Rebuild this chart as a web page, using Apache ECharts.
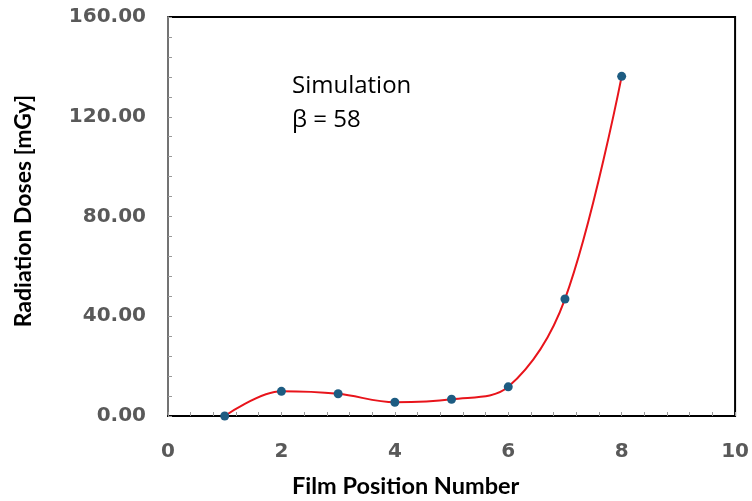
<!DOCTYPE html>
<html>
<head>
<meta charset="utf-8">
<script src="https://cdn.jsdelivr.net/npm/echarts@6/dist/echarts.min.js"></script>
<style>
  html, body { margin: 0; padding: 0; background: #fff; }
  #chart { width: 752px; height: 501px; }
</style>
</head>
<body>
<div id="chart"></div>
<script>
// Film positions and simulated radiation doses (mGy)
const filmPositions = [1, 2, 3, 4, 5, 6, 7, 8];
const doses = [0.0, 9.9, 8.9, 5.5, 6.7, 11.7, 46.9, 136.2];
const xTicks = [0, 2, 4, 6, 8, 10];
const yTicks = [0, 40, 80, 120, 160];

const annotation = ['Simulation', 'β = 58'];

const points = filmPositions.map((x, i) => [x, doses[i]]);

const chart = echarts.init(document.getElementById('chart'));

const tickLabelStyle = {
  fontFamily: 'DejaVu Sans',
  fontWeight: 'bold',
  fontSize: 20,
  color: '#595959'
};

chart.setOption({
  animation: false,
  grid: {
    left: 168, top: 17, right: 13, bottom: 85,
    show: true, borderColor: '#000', borderWidth: 2
  },
  xAxis: {
    type: 'value',
    min: xTicks[0], max: xTicks[xTicks.length - 1], interval: 2,
    axisLine: { show: true, onZero: false, lineStyle: { color: '#000', width: 2 } },
    axisTick: { show: true, inside: true, length: 4, lineStyle: { color: '#999', width: 1 } },
    minorTick: { show: true, splitNumber: 5, length: 4, lineStyle: { color: '#999', width: 1 } },
    splitLine: { show: false },
    axisLabel: Object.assign({ margin: 26 }, tickLabelStyle, {
      formatter: v => String(v)
    })
  },
  yAxis: {
    type: 'value',
    min: yTicks[0], max: yTicks[yTicks.length - 1], interval: 40,
    axisLine: { show: true, onZero: false, lineStyle: { color: '#737373', width: 2 } },
    axisTick: { show: true, inside: true, length: 4, lineStyle: { color: '#999', width: 1 } },
    minorTick: { show: true, splitNumber: 5, length: 4, lineStyle: { color: '#999', width: 1 } },
    splitLine: { show: false },
    axisLabel: Object.assign({ margin: 22 }, tickLabelStyle, {
      formatter: v => v.toFixed(2)
    })
  },
  graphic: [
    {
      type: 'text', left: 292, top: 69,
      style: {
        text: annotation.join('\n'), fill: '#000',
        font: '24px "Open Sans"', lineHeight: 34
      }
    },
    {
      type: 'text', left: 292, top: 474,
      style: { text: 'Film Position Number', fill: '#000', font: 'bold 23.5px Lato' }
    },
    {
      type: 'text', x: 24, y: 211, rotation: Math.PI / 2,
      style: {
        text: 'Radiation Doses [mGy]', fill: '#000', font: 'bold 23px Lato',
        align: 'center', verticalAlign: 'middle'
      }
    }
  ],
  series: [{
    type: 'line',
    data: points,
    smooth: 0.35,
    symbol: 'circle',
    symbolSize: 9,
    itemStyle: { color: '#1d5c82' },
    lineStyle: { color: '#e8141b', width: 2 },
    z: 3
  }]
});
</script>
</body>
</html>
